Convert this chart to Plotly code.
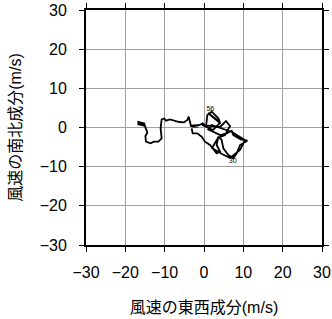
import plotly.graph_objects as go

# Wind components (m/s): east-west (u) and north-south (v)
u = [-16.97, -15.19, -15.27, -16.9, -15.2, -14.58, -14.4, -14.9, -14.75, -13.6, -12.7, -11.6,
     -10.77, -11.03, -10.77, -10.1, -9.67, -8.65, -7.63, -6.27, -5.08, -4.24, -3.9, -3.56,
     -3.3, -2.54, -1.17, -0.34, 0.51, 0.85, 1.95, 3.65, 4.07,
     1.02, 4.07, 2.29, -0.51, 4.07, 5.60, 6.62, 5.34, 3.56, 2.04, 4.58, 6.62, 9.16, 10.43, 7.12,
     1.95, 1.1, 2.8, 4.07, 5.77,
     7.04, 7.46, 9.33, 11.03, 9.16, 8.31, 7.46, 6.19, 4.92, 4.49, 3.65, 3.22, 4.07, 3.22,
     1.53, 0.25, -0.59, -1.7, -2.88, -3.14]
v = [1.48, 1.06, 0.47, 0.89, 0.9, -0.64, -1.32, -2.17, -3.62, -4.05, -3.62, -3.62,
     -2.76, -0.21, 2.08, 2.3, 1.74, 2.08, 1.74, 1.4, 1.32, 1.91, 2.76, 1.48,
     0.38, 0.38, 0.64, 1.06, 0.21, 3.19, 4.04, 2.34, 1.32,
     3.70, 1.15, -0.64, 0.64, 0.13, 1.66, 0.38, -1.91, -2.68, -5.23, -6.76, -7.78, -5.74, -3.19, -1.15,
     0.64, -0.47, -1.32, -1.92, -1.49,
     -0.81, -1.92, -3.02, -3.36, -4.47, -6.6, -7.87, -7.02, -5.32, -3.19, -2.34, -4.47, -6.17, -6.6,
     -4.47, -3.62, -2.34, -1.49, -1.49, -0.21]

# Small time labels along the trace
label_u = [1.6, 7.3, -2.6, -1.9]
label_v = [4.6, -8.5, 0.3, 0.3]
label_text = ["56", "30", "o", "o"]

tick_vals = [-30, -20, -10, 0, 10, 20, 30]
x_title = "風速の東西成分(m/s)"
y_title = "風速の南北成分(m/s)"

FONT = "Liberation Sans, Arial, Noto Sans CJK JP, sans-serif"

fig = go.Figure()
fig.add_trace(go.Scatter(x=u, y=v, mode="lines",
                         line=dict(color="black", width=1.8), showlegend=False))
fig.add_trace(go.Scatter(x=label_u, y=label_v, mode="text", text=label_text,
                         textfont=dict(size=7, color="black", family=FONT),
                         showlegend=False, hoverinfo="skip"))

axis_common = dict(
    range=[-30, 30], tickvals=tick_vals, ticks="outside", ticklen=5, tickwidth=1,
    tickcolor="black", showline=True, linewidth=2, linecolor="black", mirror="ticks",
    showgrid=True, gridcolor="#a0a0a0", gridwidth=1, zeroline=False, automargin=False,
    tickfont=dict(size=16, color="black", family=FONT),
)

fig.update_layout(
    width=332, height=319,
    margin=dict(l=86, r=10, t=10, b=74),
    paper_bgcolor="white", plot_bgcolor="white",
    font=dict(family=FONT, color="black"),
    xaxis=dict(**axis_common, ticklabelstandoff=7,
               title=dict(text=x_title, font=dict(size=16, family=FONT), standoff=22)),
    yaxis=dict(**axis_common, ticklabelstandoff=9,
               title=dict(text=y_title, font=dict(size=16, family=FONT), standoff=14)),
)

fig.write_html("out.html")
